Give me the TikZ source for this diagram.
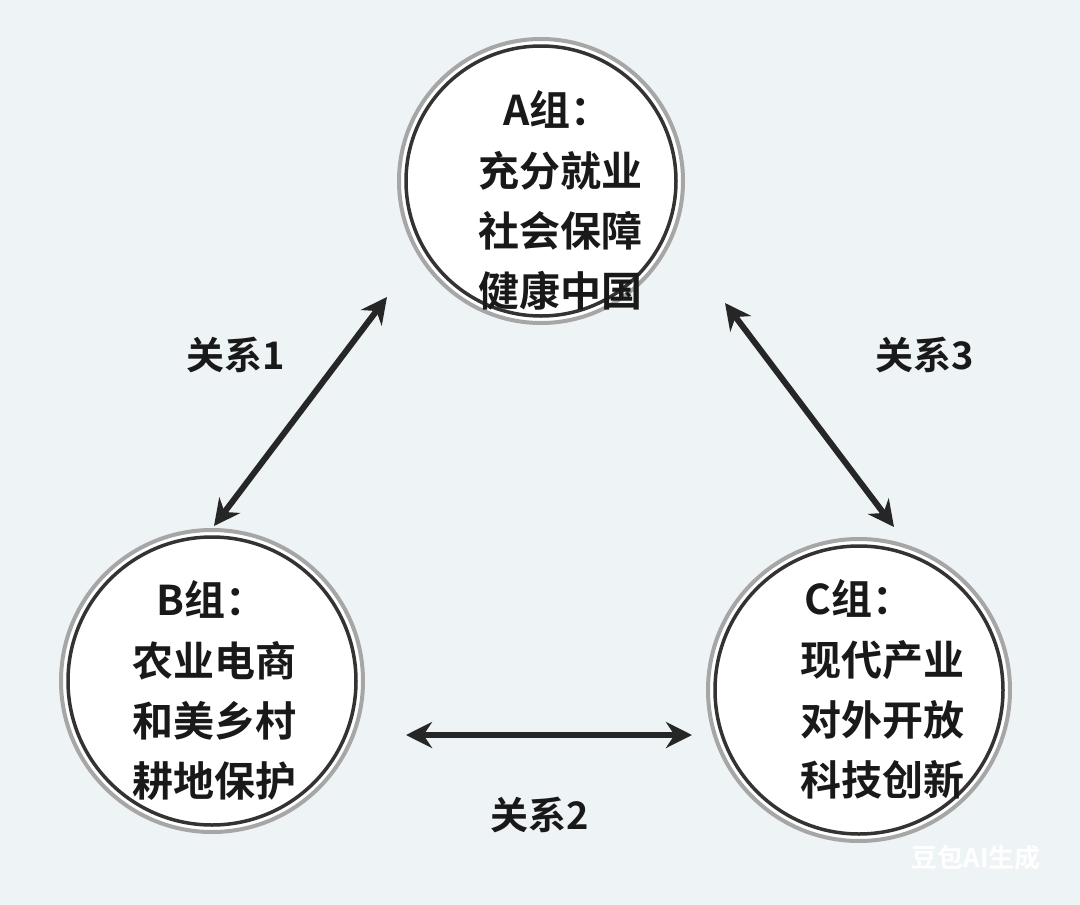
\documentclass[tikz,border=0pt]{standalone}
\usepackage{fontspec}
\newfontfamily\cjk{Noto Sans CJK SC}[BoldFont={Noto Sans CJK SC Bold}]
\usetikzlibrary{arrows.meta}
\definecolor{bg}{HTML}{EEF3F5}
\begin{document}
\begin{tikzpicture}[x=1pt,y=-1pt,
  ring/.style={circle,draw=gray!70,line width=4pt,minimum size=#1,fill=white},
  inner/.style={circle,draw=black!80,line width=3.5pt,minimum size=#1},
  txt/.style={font=\cjk\bfseries\fontsize{41}{41}\selectfont,text=black!90,inner sep=0pt},
  lab/.style={font=\cjk\bfseries\fontsize{38}{38}\selectfont,text=black!90},
  conn/.style={line width=6pt,draw=black!85,{Stealth[length=26pt,width=26pt]}-{Stealth[length=26pt,width=26pt]}}]
\fill[bg] (0,0) rectangle (1080,905);
\useasboundingbox (0,0) rectangle (1080,905);
\node[ring=284pt] (A) at (541,181) {};
\node[inner=270pt] at (A) {};
\node[ring=302pt] (B) at (212,681) {};
\node[inner=288pt] at (B) {};
\node[ring=302pt] (C) at (859,690) {};
\node[inner=288pt] at (C) {};
\node[txt,anchor=west] (a0) at (503,109) {A组：};
\node[txt] (a1) at (560,171) {充分就业};
\node[txt] (a2) at (560,231) {社会保障};
\node[txt] (a3) at (560,291) {健康中国};
\node[txt,anchor=west] (b0) at (156,599) {B组：};
\node[txt] (b1) at (214,661) {农业电商};
\node[txt] (b2) at (214,721) {和美乡村};
\node[txt] (b3) at (214,781) {耕地保护};
\node[txt,anchor=west] (c0) at (804,598) {C组：};
\node[txt] (c1) at (882,660) {现代产业};
\node[txt] (c2) at (882,720) {对外开放};
\node[txt] (c3) at (882,780) {科技创新};
\coordinate (p1) at (387,297); \coordinate (p2) at (214,526);
\coordinate (p3) at (725,303); \coordinate (p4) at (894,527);
\coordinate (p5) at (406,735); \coordinate (p6) at (692,735);
\draw[conn] (p1) -- (p2);
\draw[conn] (p3) -- (p4);
\draw[conn] (p5) -- (p6);
\node[lab] (l1) at (236,355) {关系1};
\node[lab] (l3) at (925,355) {关系3};
\node[lab] (l2) at (540,815) {关系2};
\node[font=\cjk\bfseries\fontsize{26}{26}\selectfont,text=white] (wm) at (976,858) {豆包AI生成};
\end{tikzpicture}
\end{document}
